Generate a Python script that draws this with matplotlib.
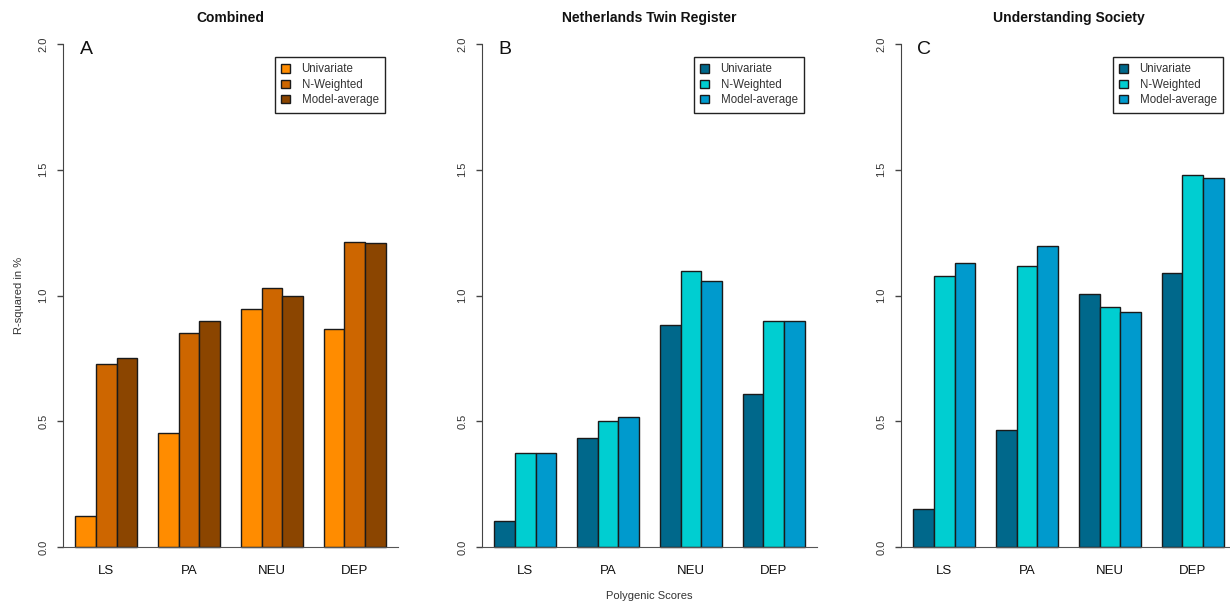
"""Grouped bar panels: R-squared of polygenic scores by cohort and method."""

import matplotlib

matplotlib.use("Agg")
import matplotlib.pyplot as plt
import numpy as np
from matplotlib.patches import Patch

plt.rcParams["font.family"] = ["Liberation Sans", "DejaVu Sans"]

SCORES = ["LS", "PA", "NEU", "DEP"]
METHODS = ["Univariate", "N-Weighted", "Model-average"]

# R-squared in %, one list per method, in SCORES order
combined_univariate = [0.124, 0.452, 0.945, 0.866]
combined_nweighted = [0.726, 0.850, 1.031, 1.213]
combined_modelavg = [0.750, 0.899, 1.000, 1.207]

ntr_univariate = [0.101, 0.435, 0.883, 0.608]
ntr_nweighted = [0.372, 0.501, 1.099, 0.900]
ntr_modelavg = [0.372, 0.516, 1.059, 0.900]

us_univariate = [0.149, 0.466, 1.007, 1.089]
us_nweighted = [1.078, 1.118, 0.956, 1.479]
us_modelavg = [1.128, 1.198, 0.936, 1.466]

PANEL_TITLES = ["Combined", "Netherlands Twin Register", "Understanding Society"]
PANEL_LETTERS = ["A", "B", "C"]

ORANGES = ["#FF8C00", "#CD6600", "#8B4500"]
BLUES = ["#00688B", "#00CED1", "#009ACD"]

PANELS = [
    ([combined_univariate, combined_nweighted, combined_modelavg], ORANGES),
    ([ntr_univariate, ntr_nweighted, ntr_modelavg], BLUES),
    ([us_univariate, us_nweighted, us_modelavg], BLUES),
]

W, H = 1230, 602
fig = plt.figure(figsize=(W / 100, H / 100), dpi=100)

lefts = [63, 482, 901]
axes_w = 335
bottom_px, top_px = 567, 24
axes_h = bottom_px - top_px


def frac_y(px):
    """Pixel row (from top) to axes fraction."""
    return (bottom_px - px) / axes_h


for i, ((series, colors), title, letter) in enumerate(zip(PANELS, PANEL_TITLES, PANEL_LETTERS)):
    ax = fig.add_axes([lefts[i] / W, (H - bottom_px) / H, axes_w / W, axes_h / H])
    # R barplot layout: bar width 1, one bar gap between groups
    group_starts = 1 + 4 * np.arange(len(SCORES))
    for j, (vals, col) in enumerate(zip(series, colors)):
        ax.bar(group_starts + j, vals, width=1.0, align="edge", color=col,
               edgecolor="#1a1a1a", linewidth=1.0, zorder=2)

    ax.set_xlim(0.4, 16.6)
    ax.set_ylim(-0.08, 2.08)

    for side in ("top", "right"):
        ax.spines[side].set_visible(False)
    ax.spines["left"].set_bounds(0, 2)
    ax.spines["left"].set_color("#444444")
    ax.spines["bottom"].set_position(("data", 0))
    ax.spines["bottom"].set_color("#555555")
    ax.spines["bottom"].set_zorder(3)

    ax.set_yticks([0.0, 0.5, 1.0, 1.5, 2.0])
    ax.set_yticklabels(["0.0", "0.5", "1.0", "1.5", "2.0"], rotation=90,
                       va="center", color="#333333")
    ax.tick_params(axis="y", length=4.5, width=1.0, color="#444444",
                   labelsize=8, pad=6)
    ax.set_xticks(group_starts + 1.5)
    ax.set_xticklabels(SCORES)
    ax.tick_params(axis="x", length=0, labelsize=9.5, pad=13, colors="#111111")

    ax.text(0.5, frac_y(18), title, transform=ax.transAxes, ha="center",
            va="center", fontsize=10, fontweight="bold", color="#111111")

    ax.text(0.069, frac_y(50), letter, transform=ax.transAxes, fontsize=14,
            va="center", ha="center", color="#111111")

    handles = [Patch(facecolor=c, edgecolor="#1a1a1a", linewidth=1.0) for c in colors]
    leg = ax.legend(handles, METHODS, loc="upper right",
                    bbox_to_anchor=(0.961, frac_y(57)), fontsize=8.3,
                    frameon=True, fancybox=False, edgecolor="#222222",
                    framealpha=1, handlelength=0.75, handleheight=0.75,
                    handletextpad=1.0, labelspacing=0.3, borderpad=0.55,
                    borderaxespad=0)
    leg.get_frame().set_linewidth(1.0)
    for t in leg.get_texts():
        t.set_color("#333333")

    if i == 0:
        ax.set_ylabel("R-squared in %", fontsize=8, color="#333333")
        ax.yaxis.set_label_coords(-39 / axes_w, frac_y(295))
    if i == 1:
        ax.text(0.5, frac_y(596), "Polygenic Scores", transform=ax.transAxes,
                ha="center", va="center", fontsize=8, color="#333333")

fig.savefig("out.png", dpi=100)
